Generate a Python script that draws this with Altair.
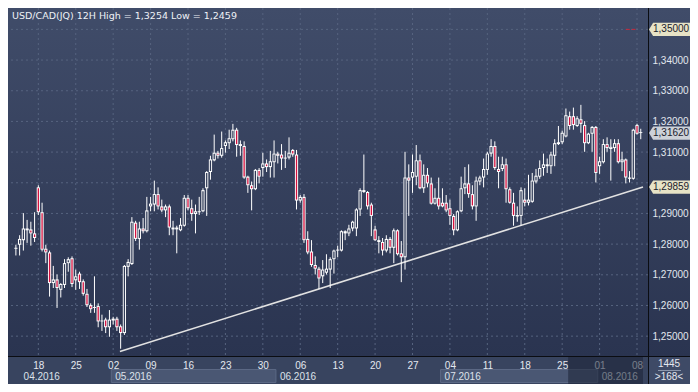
import altair as alt
import pandas as pd

# ---------------- data ----------------
opens = [1.2785, 1.2798, 1.2813, 1.2845, 1.2848, 1.2835, 1.2985, 1.2904, 1.2785, 1.2773,
         1.2673, 1.2685, 1.2651, 1.2667, 1.2738, 1.2754, 1.2682, 1.2704, 1.2679, 1.2638,
         1.2601, 1.2592, 1.2598, 1.2548, 1.2554, 1.2529, 1.2551, 1.2557, 1.2532, 1.2510,
         1.2726, 1.2735, 1.2870, 1.2817, 1.2851, 1.2842, 1.2923, 1.2929, 1.2963, 1.2923,
         1.2910, 1.2923, 1.2854, 1.2848, 1.2845, 1.2860, 1.2951, 1.2917, 1.2898, 1.2904,
         1.2907, 1.2982, 1.3035, 1.3073, 1.3098, 1.3088, 1.3120, 1.3129, 1.3142, 1.3173,
         1.3126, 1.3120, 1.3020, 1.2992, 1.2979, 1.3042, 1.3048, 1.3063, 1.3051, 1.3067,
         1.3095, 1.3092, 1.3079, 1.3082, 1.3107, 1.3092, 1.2942, 1.2954, 1.2817, 1.2776,
         1.2732, 1.2720, 1.2695, 1.2707, 1.2717, 1.2751, 1.2779, 1.2779, 1.2835, 1.2835,
         1.2851, 1.2851, 1.2913, 1.2976, 1.2970, 1.2929, 1.2848, 1.2813, 1.2807, 1.2779,
         1.2817, 1.2788, 1.2845, 1.2770, 1.2757, 1.3017, 1.3017, 1.3020, 1.3073, 1.2982,
         1.3026, 1.2998, 1.2932, 1.2951, 1.2935, 1.2935, 1.2917, 1.2892, 1.2845, 1.2907,
         1.2982, 1.2998, 1.2963, 1.2923, 1.3004, 1.3017, 1.3042, 1.3095, 1.3120, 1.3045,
         1.3045, 1.3060, 1.2979, 1.2935, 1.2895, 1.2892, 1.2945, 1.2935, 1.2938, 1.3004,
         1.3020, 1.3048, 1.3054, 1.3054, 1.3088, 1.3126, 1.3132, 1.3151, 1.3217, 1.3217,
         1.3185, 1.3207, 1.3188, 1.3129, 1.3160, 1.3182, 1.3054, 1.3067, 1.3126, 1.3110,
         1.3113, 1.3129, 1.3067, 1.3076, 1.3013, 1.3013, 1.3188, 1.3165]
highs = [1.2798, 1.2829, 1.2901, 1.2879, 1.2873, 1.2904, 1.2992, 1.2935, 1.2798, 1.2779,
         1.2729, 1.2701, 1.2673, 1.2751, 1.2757, 1.2760, 1.2717, 1.2710, 1.2685, 1.2654,
         1.2607, 1.2695, 1.2607, 1.2570, 1.2560, 1.2585, 1.2563, 1.2563, 1.2538, 1.2732,
         1.2751, 1.2888, 1.2876, 1.2873, 1.2885, 1.2954, 1.2954, 1.3007, 1.2985, 1.2945,
         1.2929, 1.2929, 1.2876, 1.2860, 1.2885, 1.2960, 1.2960, 1.2945, 1.2929, 1.2954,
         1.2982, 1.3038, 1.3088, 1.3157, 1.3104, 1.3167, 1.3138, 1.3173, 1.3192, 1.3179,
         1.3138, 1.3135, 1.3023, 1.3004, 1.3045, 1.3048, 1.3098, 1.3076, 1.3104, 1.3138,
         1.3101, 1.3126, 1.3104, 1.3148, 1.3110, 1.3107, 1.2960, 1.2963, 1.2842, 1.2813,
         1.2760, 1.2726, 1.2748, 1.2767, 1.2757, 1.2782, 1.2795, 1.2845, 1.2845, 1.2863,
         1.2876, 1.2917, 1.2982, 1.3092, 1.2973, 1.2935, 1.2860, 1.2826, 1.2820, 1.2829,
         1.2823, 1.2851, 1.2848, 1.2810, 1.3101, 1.3060, 1.3092, 1.3123, 1.3092, 1.3060,
         1.3048, 1.3017, 1.2982, 1.3017, 1.2982, 1.2960, 1.2945, 1.2898, 1.2910, 1.3020,
         1.3051, 1.3060, 1.2992, 1.3020, 1.3023, 1.3079, 1.3101, 1.3142, 1.3135, 1.3085,
         1.3085, 1.3079, 1.2985, 1.2967, 1.2923, 1.2985, 1.2982, 1.3026, 1.3032, 1.3045,
         1.3073, 1.3095, 1.3079, 1.3101, 1.3142, 1.3185, 1.3170, 1.3242, 1.3232, 1.3245,
         1.3217, 1.3254, 1.3201, 1.3163, 1.3185, 1.3185, 1.3085, 1.3142, 1.3148, 1.3142,
         1.3142, 1.3142, 1.3101, 1.3079, 1.3038, 1.3176, 1.3192, 1.3176]
lows = [1.2763, 1.2763, 1.2779, 1.2804, 1.2795, 1.2807, 1.2895, 1.2776, 1.2738, 1.2629,
        1.2657, 1.2592, 1.2626, 1.2657, 1.2710, 1.2660, 1.2651, 1.2654, 1.2632, 1.2595,
        1.2576, 1.2576, 1.2529, 1.2517, 1.2510, 1.2498, 1.2538, 1.2517, 1.2459, 1.2504,
        1.2695, 1.2732, 1.2810, 1.2782, 1.2835, 1.2838, 1.2907, 1.2907, 1.2913, 1.2904,
        1.2888, 1.2829, 1.2829, 1.2770, 1.2842, 1.2857, 1.2910, 1.2876, 1.2835, 1.2895,
        1.2904, 1.2892, 1.3010, 1.3070, 1.3079, 1.3082, 1.3098, 1.3110, 1.3135, 1.3085,
        1.3088, 1.3013, 1.2967, 1.2910, 1.2976, 1.2998, 1.3020, 1.3035, 1.3017, 1.3017,
        1.3063, 1.3042, 1.3048, 1.3076, 1.3085, 1.2913, 1.2935, 1.2804, 1.2767, 1.2726,
        1.2701, 1.2654, 1.2673, 1.2701, 1.2657, 1.2704, 1.2757, 1.2776, 1.2813, 1.2826,
        1.2842, 1.2826, 1.2892, 1.2967, 1.2913, 1.2826, 1.2810, 1.2770, 1.2763, 1.2773,
        1.2770, 1.2738, 1.2763, 1.2676, 1.2717, 1.2892, 1.2967, 1.2992, 1.2979, 1.2967,
        1.2985, 1.2929, 1.2929, 1.2913, 1.2920, 1.2904, 1.2863, 1.2829, 1.2842, 1.2904,
        1.2963, 1.2951, 1.2913, 1.2876, 1.2992, 1.2985, 1.3026, 1.3085, 1.3042, 1.2982,
        1.3038, 1.2935, 1.2932, 1.2860, 1.2873, 1.2860, 1.2923, 1.2926, 1.2935, 1.2998,
        1.3013, 1.3023, 1.3032, 1.3029, 1.3054, 1.3123, 1.3126, 1.3148, 1.3173, 1.3173,
        1.3182, 1.3163, 1.3101, 1.3126, 1.3101, 1.3001, 1.3029, 1.3063, 1.3101, 1.3007,
        1.3101, 1.3063, 1.3038, 1.2998, 1.3001, 1.3010, 1.3157, 1.3142]
closes = [1.2788, 1.2817, 1.2851, 1.2851, 1.2835, 1.2820, 1.2904, 1.2782, 1.2773, 1.2673,
          1.2685, 1.2657, 1.2670, 1.2738, 1.2751, 1.2670, 1.2695, 1.2676, 1.2638, 1.2601,
          1.2588, 1.2595, 1.2548, 1.2551, 1.2529, 1.2554, 1.2557, 1.2529, 1.2510, 1.2729,
          1.2742, 1.2873, 1.2817, 1.2851, 1.2842, 1.2910, 1.2932, 1.2963, 1.2923, 1.2910,
          1.2923, 1.2854, 1.2848, 1.2854, 1.2863, 1.2951, 1.2917, 1.2898, 1.2907, 1.2907,
          1.2976, 1.3035, 1.3076, 1.3098, 1.3088, 1.3113, 1.3132, 1.3145, 1.3173, 1.3123,
          1.3120, 1.3017, 1.2992, 1.2979, 1.3042, 1.3020, 1.3063, 1.3051, 1.3070, 1.3095,
          1.3088, 1.3079, 1.3082, 1.3098, 1.3092, 1.2942, 1.2954, 1.2813, 1.2773, 1.2732,
          1.2720, 1.2688, 1.2717, 1.2720, 1.2751, 1.2779, 1.2782, 1.2842, 1.2842, 1.2851,
          1.2873, 1.2913, 1.2976, 1.2970, 1.2923, 1.2892, 1.2813, 1.2807, 1.2779, 1.2817,
          1.2788, 1.2845, 1.2767, 1.2757, 1.3017, 1.3007, 1.3035, 1.3073, 1.2982, 1.3026,
          1.2998, 1.2932, 1.2951, 1.2923, 1.2923, 1.2910, 1.2892, 1.2845, 1.2907, 1.2982,
          1.2998, 1.2963, 1.2923, 1.3007, 1.3017, 1.3045, 1.3095, 1.3120, 1.3048, 1.3035,
          1.3060, 1.2979, 1.2935, 1.2892, 1.2890, 1.2976, 1.2935, 1.2945, 1.3007, 1.3023,
          1.3048, 1.3060, 1.3060, 1.3092, 1.3129, 1.3132, 1.3163, 1.3220, 1.3185, 1.3188,
          1.3210, 1.3192, 1.3129, 1.3160, 1.3182, 1.3032, 1.3070, 1.3126, 1.3113, 1.3117,
          1.3129, 1.3067, 1.3076, 1.3017, 1.3017, 1.3173, 1.3160, 1.3162]

week_ticks = [6, 16, 26, 36, 46, 56, 66, 76, 86, 96, 106, 116, 126, 136, 146, 156, 166]
day_labels = ["18", "25", "02", "09", "16", "23", "30", "06", "13", "20", "27",
              "04", "11", "18", "25", "01", "08"]
month_labels = ["04.2016", "05.2016", "06.2016", "07.2016", "08.2016"]
month_start = [-0.77, 25.5, 69.5, 113.5, 155.5]
month_label_at = [1.0, 25.5, 69.5, 113.5, 155.5]
month_end = [25.5, 69.5, 113.5, 155.5, 167.6]
month_boxed = [False, True, False, True, False]
price_levels = [1.25, 1.26, 1.27, 1.28, 1.29, 1.30, 1.31, 1.32, 1.33, 1.34, 1.35]
axis_levels = [1.25, 1.26, 1.27, 1.28, 1.29, 1.31, 1.32, 1.33, 1.34]
trend_idx = [27.8, 167.6]
trend_val = [1.2450, 1.29859]
tag_price = [1.35, 1.3162, 1.29859]
tag_text = ["1,35000", "1,31620", "1,29859"]
tag_fill = ["#e7e3c6", "#ccd1d8", "#e7e3c6"]
alert_idx = [163.0, 165.6]
alert_val = [1.35, 1.35]
shade_idx = [147.6, 167.6]
title_text = "USD/CAD(JQ) 12H High = 1,3254 Low = 1,2459"
count_text = ["1445", ">168<"]

# ---------------- frames ----------------
df = pd.DataFrame({"i": list(range(len(opens))), "open": opens, "high": highs,
                   "low": lows, "close": closes})
df["top"] = df[["open", "close"]].max(axis=1)
df["bot"] = df[["open", "close"]].min(axis=1)
df["fill"] = ["#d4103e" if c < o else "#303b57" for o, c in zip(opens, closes)]
inner = df[(df["top"] - df["bot"]) > 0.0007]

W, H = 640, 348
RIGHT, BOTTOM = 42, 28
FONT = "Liberation Sans"
xs = alt.Scale(domain=[-0.77, 167.6], nice=False, zero=False)
ys = alt.Scale(domain=[1.24353, 1.35697], nice=False, zero=False)

label_expr = "[" + ",".join("'%s'" % d for d in day_labels) + "][round((datum.value-6)/10)]"
XAX = alt.Axis(values=week_ticks, labelExpr=label_expr, grid=False, ticks=False, domain=False,
               labelPadding=4, labelBaseline="top", labelFontSize=10, labelFont=FONT,
               labelColor="#e4e8ef", labelFlush=False, labelOverlap=False, title=None, zindex=0)
YAX = alt.Axis(orient="right", values=axis_levels,
               labelExpr="replace(format(datum.value, '.5f'), '.', ',')",
               grid=False, ticks=False, domain=False, labelPadding=4, labelAlign="left",
               labelBaseline="middle", labelFontSize=10, labelFont=FONT,
               labelColor="#e2e7ef", labelFlush=False, labelOverlap=False, title=None, zindex=1)

X = lambda f: alt.X(f, type="quantitative", scale=xs, axis=XAX)
Y = lambda f: alt.Y(f, type="quantitative", scale=ys, axis=YAX)

one = pd.DataFrame({"k": [0]})

bg = alt.Chart(one).mark_rect(
    fill=alt.Gradient(gradient="linear", x1=0, x2=0, y1=0, y2=1,
                      stops=[alt.GradientStop(color="#404c69", offset=0),
                             alt.GradientStop(color="#2a3450", offset=1)])
).encode(x=alt.value(0), x2=alt.value(W + RIGHT), y=alt.value(0), y2=alt.value(H))

grid_df = pd.DataFrame({"lvl": price_levels})
hgrid = alt.Chart(grid_df).mark_rule(color="#56637f", strokeDash=[2, 3], strokeWidth=1).encode(
    y=Y("lvl"))
vgrid = alt.Chart(pd.DataFrame({"t": week_ticks})).mark_rule(
    color="#56637f", strokeDash=[2, 3], strokeWidth=1).encode(x=X("t"))

months = pd.DataFrame({"m": month_labels, "s": month_start, "e": month_end,
                       "at": month_label_at, "boxed": month_boxed})
mbox = alt.Chart(months[months["boxed"]]).mark_rect(
    fill="#4a5773", stroke="#5b6884", strokeWidth=1).encode(
    x=X("s"), x2="e", y=alt.value(361.5), y2=alt.value(374.5))
mtext = alt.Chart(months).mark_text(
    align="left", baseline="middle", dx=4, fontSize=10, font=FONT, color="#dde2ea").encode(
    x=X("at"), y=alt.value(368.5), text="m:N")

trend = alt.Chart(pd.DataFrame({"i": trend_idx, "v": trend_val})).mark_line(
    color="#e2e2e2", strokeWidth=1.6).encode(x=X("i"), y=Y("v"))

wicks = alt.Chart(df).mark_rule(color="#ffffff", strokeWidth=1).encode(
    x=X("i"), y=Y("high"), y2="low")
body = alt.Chart(df).mark_bar(size=3.2, color="#ffffff").encode(
    x=X("i"), y=Y("top"), y2="bot")
body_in = alt.Chart(inner).mark_bar(size=1.3, yOffset=1, y2Offset=-1).encode(
    x=X("i"), y=Y("top"), y2="bot", fill=alt.Fill("fill:N", scale=None))

alert = alt.Chart(pd.DataFrame({"i": alert_idx, "v": alert_val})).mark_line(
    color="#c8283c", strokeDash=[4, 2], strokeWidth=1).encode(x=X("i"), y=Y("v"))

shade = alt.Chart(pd.DataFrame({"s": [shade_idx[0]], "e": [shade_idx[1]]})).mark_rect(
    fill="#1b2235", opacity=0.55).encode(x=X("s"), x2="e", y=alt.value(H + 1), y2=alt.value(H + BOTTOM))

vline = alt.Chart(one).mark_rule(color="#0b0d12", strokeWidth=1).encode(
    x=alt.value(W + 0.5), y=alt.value(0), y2=alt.value(H + BOTTOM))
hline = alt.Chart(one).mark_rule(color="#0b0d12", strokeWidth=1).encode(
    x=alt.value(0), x2=alt.value(W + RIGHT), y=alt.value(H + 0.5))

corner = alt.Chart(one).mark_rect(fill="#3e4a66").encode(
    x=alt.value(W + 1), x2=alt.value(W + RIGHT), y=alt.value(H + 1), y2=alt.value(H + BOTTOM))
cdf = pd.DataFrame({"t": count_text, "row": [0, 1]})
ctext0 = alt.Chart(cdf[cdf["row"] == 0]).mark_text(
    align="center", baseline="middle", fontSize=10, font=FONT, color="#e4e8ef").encode(
    x=alt.value(W + 21), y=alt.value(355.5), text="t:N")
ctext1 = alt.Chart(cdf[cdf["row"] == 1]).mark_text(
    align="center", baseline="middle", fontSize=10, font=FONT, color="#e4e8ef").encode(
    x=alt.value(W + 21), y=alt.value(369), text="t:N")
csep = alt.Chart(one).mark_rule(color="#8c97ac", strokeWidth=1).encode(
    x=alt.value(W + 10), x2=alt.value(W + 33), y=alt.value(362.5))

tags = pd.DataFrame({"p": tag_price, "t": tag_text, "f": tag_fill})
tag_shape = alt.Chart(tags).mark_point(
    shape="M-1,0L-0.8,-0.32L1,-0.32L1,0.32L-0.8,0.32Z", filled=True, size=1681, opacity=1,
    strokeWidth=0).encode(x=alt.value(W + 21.5), y=Y("p"), fill=alt.Fill("f:N", scale=None))
tag_text_l = alt.Chart(tags).mark_text(
    align="left", baseline="middle", fontSize=10, font=FONT, color="#1a202c").encode(
    x=alt.value(W + 5), y=Y("p"), text="t:N")

title = alt.Chart(pd.DataFrame({"t": [title_text]})).mark_text(
    align="left", baseline="top", fontSize=9.5, font="DejaVu Sans", color="#eef1f6").encode(
    x=alt.value(4), y=alt.value(3), text="t:N")

chart = alt.layer(
    bg, hgrid, vgrid, mbox, mtext, trend, wicks, body, body_in, alert, shade,
    vline, hline, corner, ctext0, ctext1, csep, tag_shape, tag_text_l, title
).properties(
    width=W, height=H,
    autosize=alt.AutoSizeParams(type="none"),
    padding={"left": 0, "top": 0, "right": RIGHT, "bottom": BOTTOM},
    background="#38445f",
).configure_view(stroke=None)

chart.save("out.html", embed_options={"renderer": "svg", "actions": False})
